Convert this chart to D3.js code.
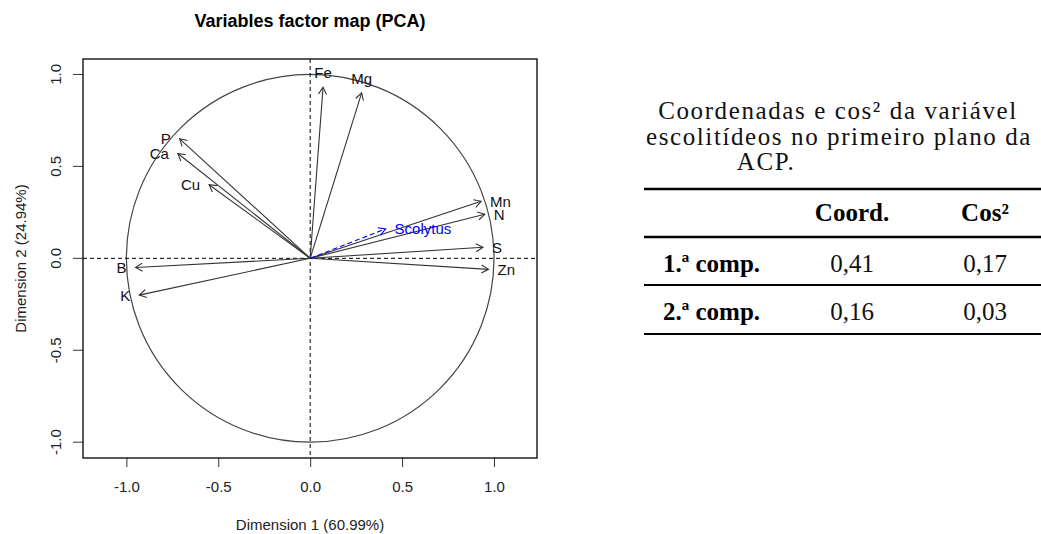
<!DOCTYPE html>
<html>
<head>
<meta charset="utf-8">
<script src="https://cdn.jsdelivr.net/npm/d3@7"></script>
<style>
  body { margin: 0; background: #fff; }
  svg { display: block; }
</style>
</head>
<body>
<svg id="chart"></svg>
<script>
// variables (active) — coordinates on dim 1 / dim 2
var varNames = ["Fe", "Mg", "P", "Ca", "Cu", "Mn", "N", "S", "Zn", "B", "K"];
var varDim1 = [0.07, 0.28, -0.71, -0.72, -0.55, 0.93, 0.95, 0.94, 0.97, -0.95, -0.93];
var varDim2 = [0.93, 0.90, 0.65, 0.57, 0.40, 0.31, 0.24, 0.06, -0.06, -0.05, -0.20];

// supplementary variable
var supNames = ["Scolytus"];
var supDim1 = [0.41];
var supDim2 = [0.16];

var axisTicks = [-1, -0.5, 0, 0.5, 1];

// table beside the plot
var captionLines = ["Coordenadas e cos² da variável", "escolitídeos no primeiro plano da", "ACP."];
var tableHeader = ["", "Coord.", "Cos²"];
var rowLabels = ["1.ª comp.", "2.ª comp."];
var coordValues = ["0,41", "0,16"];
var cos2Values = ["0,17", "0,03"];

var width = 1041, height = 534;
var box = { left: 83, right: 537, top: 59, bottom: 458 };

var svg = d3.select("#chart").attr("width", width).attr("height", height);
svg.append("rect").attr("width", width).attr("height", height).attr("fill", "#fff");

var x = d3.scaleLinear().domain([-1.236, 1.234]).range([box.left, box.right]);
var y = d3.scaleLinear().domain([-1.086, 1.084]).range([box.bottom, box.top]);

var font = "Liberation Sans, Arial, sans-serif";
var fmt = function (d) { return d3.format(".1f")(d).replace("−", "-"); };

// title
svg.append("text")
    .attr("x", (box.left + box.right) / 2)
    .attr("y", 27)
    .attr("text-anchor", "middle")
    .attr("font-family", font)
    .attr("font-weight", "bold")
    .attr("font-size", 18)
    .attr("fill", "#000")
    .text("Variables factor map (PCA)");

// axes
var xAxis = d3.axisBottom(x).tickValues(axisTicks).tickFormat(fmt).tickSizeOuter(0).tickSize(9).tickPadding(14);
var gx = svg.append("g").attr("transform", "translate(0," + box.bottom + ")").call(xAxis);
var yAxis = d3.axisLeft(y).tickValues(axisTicks).tickFormat(fmt).tickSizeOuter(0).tickSize(10);
var gy = svg.append("g").attr("transform", "translate(" + box.left + ",0)").call(yAxis);
[gx, gy].forEach(function (g) {
    g.select(".domain").remove();
    g.selectAll("line").attr("stroke", "#333");
    g.selectAll("text").attr("font-family", font).attr("font-size", 15).attr("fill", "#222");
});
gx.selectAll("text").attr("dy", "0.71em");
// R style: y tick labels parallel to the axis
gy.selectAll(".tick").attr("transform", null);
gy.selectAll(".tick line").attr("transform", function (d) { return "translate(0," + y(d) + ")"; });
gy.selectAll(".tick text")
    .attr("x", 0).attr("y", 0).attr("dy", null)
    .attr("text-anchor", "middle")
    .attr("dominant-baseline", "central")
    .attr("transform", function (d) { return "translate(-28," + y(d) + ") rotate(-90)"; });

// axis titles
svg.append("text")
    .attr("x", (box.left + box.right) / 2)
    .attr("y", 530)
    .attr("text-anchor", "middle")
    .attr("font-family", font).attr("font-size", 15).attr("fill", "#222")
    .text("Dimension 1 (60.99%)");
svg.append("text")
    .attr("transform", "translate(20," + (box.top + box.bottom) / 2 + ") rotate(-90)")
    .attr("text-anchor", "middle")
    .attr("dominant-baseline", "central")
    .attr("font-family", font).attr("font-size", 15).attr("fill", "#222")
    .text("Dimension 2 (24.94%)");

// plot frame
svg.append("rect")
    .attr("x", box.left).attr("y", box.top)
    .attr("width", box.right - box.left).attr("height", box.bottom - box.top)
    .attr("fill", "none").attr("stroke", "#000").attr("stroke-width", 1.3);

// correlation circle
svg.append("ellipse")
    .attr("cx", x(0)).attr("cy", y(0))
    .attr("rx", x(1) - x(0)).attr("ry", y(0) - y(1))
    .attr("fill", "none").attr("stroke", "#444").attr("stroke-width", 1.2);

// dashed axes at zero
svg.append("line")
    .attr("x1", box.left).attr("x2", box.right).attr("y1", y(0)).attr("y2", y(0))
    .attr("stroke", "#000").attr("stroke-dasharray", "4,3");
svg.append("line")
    .attr("x1", x(0)).attr("x2", x(0)).attr("y1", box.top).attr("y2", box.bottom)
    .attr("stroke", "#000").attr("stroke-dasharray", "4,3");

function drawArrows(names, d1, d2, color, labelColor, dash) {
    var data = names.map(function (n, i) { return { name: n, x: d1[i], y: d2[i] }; });
    var g = svg.append("g");
    var head = 8, ang = Math.PI / 6;
    data.forEach(function (d) {
        var x0 = x(0), y0 = y(0), x1 = x(d.x), y1 = y(d.y);
        var a = Math.atan2(y1 - y0, x1 - x0);
        g.append("line")
            .attr("x1", x0).attr("y1", y0).attr("x2", x1).attr("y2", y1)
            .attr("stroke", color).attr("stroke-width", 1.1)
            .attr("stroke-dasharray", dash);
        g.append("path")
            .attr("d", "M" + (x1 - head * Math.cos(a - ang)) + "," + (y1 - head * Math.sin(a - ang)) +
                "L" + x1 + "," + y1 +
                "L" + (x1 - head * Math.cos(a + ang)) + "," + (y1 - head * Math.sin(a + ang)))
            .attr("fill", "none").attr("stroke", color).attr("stroke-width", 1.1);

        // label placement like R's pos: left/right when |x|>|y|, else above/below
        var t = g.append("text")
            .attr("font-family", font).attr("font-size", 15).attr("fill", labelColor)
            .text(d.name);
        if (Math.abs(d.x) >= Math.abs(d.y)) {
            t.attr("x", d.x > 0 ? x1 + 9 : x1 - 9).attr("y", y1)
                .attr("dominant-baseline", "central")
                .attr("text-anchor", d.x > 0 ? "start" : "end");
        } else {
            t.attr("x", x1).attr("y", d.y > 0 ? y1 - 9 : y1 + 20)
                .attr("text-anchor", "middle");
        }
    });
}
drawArrows(varNames, varDim1, varDim2, "#333", "#111", null);
drawArrows(supNames, supDim1, supDim2, "#0000ff", "#0000ff", "5,3");

// ---- table ----
var serif = "Liberation Serif, Times New Roman, serif";
var tbl = svg.append("g");
var capX = [838, 839, 766], capY = [119, 145, 170];
tbl.selectAll("text.cap").data(captionLines).enter().append("text")
    .attr("class", "cap")
    .attr("x", function (d, i) { return capX[i]; })
    .attr("y", function (d, i) { return capY[i]; })
    .attr("text-anchor", "middle")
    .attr("font-family", serif).attr("font-size", 25).attr("letter-spacing", 1.6).attr("fill", "#111")
    .text(function (d) { return d; });

var ruleY = [189, 237, 285, 334];
tbl.selectAll("line.rule").data(ruleY).enter().append("line")
    .attr("x1", 644).attr("x2", 1041)
    .attr("y1", function (d) { return d; }).attr("y2", function (d) { return d; })
    .attr("stroke", "#000").attr("stroke-width", function (d, i) { return i < 2 ? 2.4 : 2; });

var colX = [663, 852, 985];
var headerY = 221, rowY = [272, 320];
tbl.selectAll("text.hdr").data(tableHeader).enter().append("text")
    .attr("x", function (d, i) { return colX[i]; })
    .attr("y", headerY)
    .attr("text-anchor", "middle")
    .attr("font-family", serif).attr("font-weight", "bold").attr("font-size", 25).attr("fill", "#000")
    .text(function (d) { return d; });

rowLabels.forEach(function (lab, i) {
    tbl.append("text").attr("x", colX[0]).attr("y", rowY[i])
        .attr("font-family", serif).attr("font-weight", "bold").attr("font-size", 25).attr("fill", "#000")
        .text(lab);
    tbl.append("text").attr("x", colX[1]).attr("y", rowY[i]).attr("text-anchor", "middle")
        .attr("font-family", serif).attr("font-size", 25).attr("fill", "#111")
        .text(coordValues[i]);
    tbl.append("text").attr("x", colX[2]).attr("y", rowY[i]).attr("text-anchor", "middle")
        .attr("font-family", serif).attr("font-size", 25).attr("fill", "#111")
        .text(cos2Values[i]);
});
</script>
</body>
</html>
